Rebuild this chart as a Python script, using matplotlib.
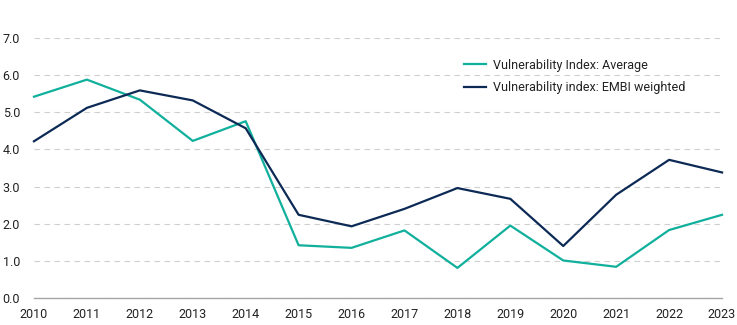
import matplotlib
matplotlib.use("Agg")
import matplotlib.pyplot as plt

plt.rcParams["font.family"] = ["Roboto", "DejaVu Sans"]

years = list(range(2010, 2024))
vuln_average = [5.42, 5.88, 5.34, 4.23, 4.76, 1.42, 1.35, 1.82, 0.81, 1.95, 1.01, 0.84, 1.83, 2.24]
vuln_embi = [4.22, 5.12, 5.59, 5.32, 4.57, 2.24, 1.93, 2.40, 2.96, 2.67, 1.40, 2.78, 3.72, 3.38]
yticks = [0.0, 1.0, 2.0, 3.0, 4.0, 5.0, 6.0, 7.0]

TEAL = "#10b09c"
NAVY = "#0c2a55"

fig = plt.figure(figsize=(7.37, 3.25), dpi=100)
ax = fig.add_axes([0.0461, 0.0831, 0.9336, 0.7999])

ax.plot(years, vuln_average, color=TEAL, lw=1.6, label="Vulnerability Index: Average", clip_on=False, zorder=3)
ax.plot(years, vuln_embi, color=NAVY, lw=1.6, label="Vulnerability index: EMBI weighted", clip_on=False, zorder=3)

ax.set_xlim(2010, 2023)
ax.set_ylim(0, 7)
ax.set_xticks(years)
ax.set_yticks(yticks)
ax.set_yticklabels([f"{v:.1f}" for v in yticks])

for s in ["top", "right", "left"]:
    ax.spines[s].set_visible(False)
ax.spines["bottom"].set_color("#a6a6a6")
ax.spines["bottom"].set_linewidth(1.0)

ax.grid(axis="y", color="#cfcfcf", lw=0.8, linestyle=(0, (5, 4)))
ax.set_axisbelow(True)

ax.tick_params(axis="both", length=0, labelsize=9, colors="#222222")
ax.tick_params(axis="x", pad=7.5)
ax.tick_params(axis="y", pad=22.5)
for lbl in ax.get_yticklabels():
    lbl.set_horizontalalignment("left")

ax.legend(loc="upper left", bbox_to_anchor=(0.608, 0.964), frameon=False,
          fontsize=9, handlelength=1.8, handletextpad=0.55, labelspacing=0.78,
          labelcolor="#222222")

fig.savefig("out.png", dpi=100)
